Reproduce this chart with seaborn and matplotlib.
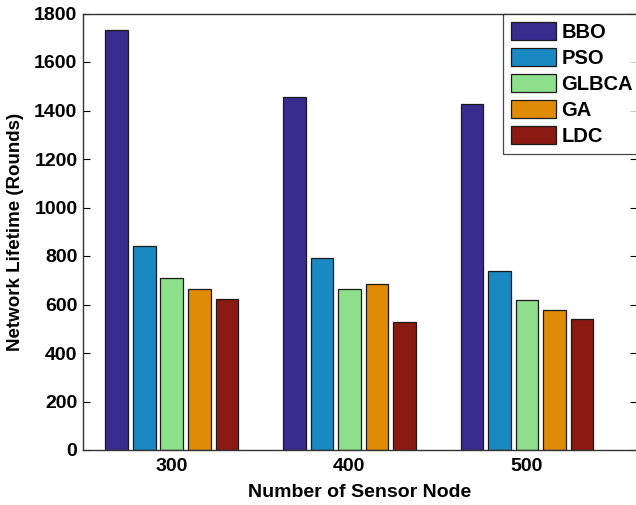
import matplotlib
matplotlib.use("Agg")
import matplotlib.pyplot as plt
import seaborn as sns
import pandas as pd

categories = ["300", "400", "500"]
methods = ["BBO", "PSO", "GLBCA", "GA", "LDC"]
bbo = [1734, 1455, 1428]
pso = [841, 790, 738]
glbca = [711, 662, 620]
ga = [662, 685, 579]
ldc = [621, 528, 541]
colors = ["#3a2b8e", "#1a88c2", "#8ddf8c", "#e08b05", "#8a1a12"]

series = [bbo, pso, glbca, ga, ldc]
rows = []
for m, vals in zip(methods, series):
    for c, v in zip(categories, vals):
        rows.append({"Nodes": c, "Method": m, "Value": v})
df = pd.DataFrame(rows)

sns.set_style("white")
plt.rcParams["font.family"] = ["Liberation Sans", "DejaVu Sans"]
plt.rcParams["font.weight"] = "bold"
plt.rcParams["text.color"] = "black"
plt.rcParams["axes.labelcolor"] = "black"
plt.rcParams["xtick.color"] = "black"
plt.rcParams["ytick.color"] = "black"

fig = plt.figure(figsize=(6.36, 5.05), dpi=100)
ax = fig.add_axes([83 / 636, 1 - 450 / 505, (637 - 83) / 636, (450 - 13.5) / 505])

sns.barplot(data=df, x="Nodes", y="Value", hue="Method", order=categories,
            hue_order=methods, palette=colors, width=0.775, gap=0.18,
            edgecolor="#1a1a1a", linewidth=0.9, saturation=1, errorbar=None, ax=ax)

ax.set_xlim(-0.5, 2.62)
ax.set_ylim(0, 1800)
ax.set_yticks(range(0, 1801, 200))
ax.set_xlabel("Number of Sensor Node", fontsize=14, fontweight="bold", labelpad=6)
ax.set_ylabel("Network Lifetime (Rounds)", fontsize=13.5, fontweight="bold", labelpad=7)
for lab in ax.get_xticklabels() + ax.get_yticklabels():
    lab.set_fontweight("bold")
    lab.set_fontsize(14)
ax.tick_params(axis="y", direction="in", length=5, width=0.8,
               right=True, left=True, pad=4)
ax.tick_params(axis="x", direction="in", length=0, pad=6)
for s in ax.spines.values():
    s.set_visible(True)
    s.set_color("#333333")
    s.set_linewidth(1.0)

handles, labels = ax.get_legend_handles_labels()
ax.legend_.remove()
leg = fig.legend(handles, labels, loc="upper left",
                 bbox_to_anchor=(503 / 636, 1 - 14 / 505), borderaxespad=0,
                 prop={"weight": "bold", "size": 14.5}, frameon=True,
                 fancybox=False, edgecolor="#1a1a1a", handlelength=2.25,
                 handleheight=1.0, handletextpad=0.25, labelspacing=0.3,
                 borderpad=0.4)
leg.get_frame().set_linewidth(0.9)

fig.savefig("out.png", dpi=100)
